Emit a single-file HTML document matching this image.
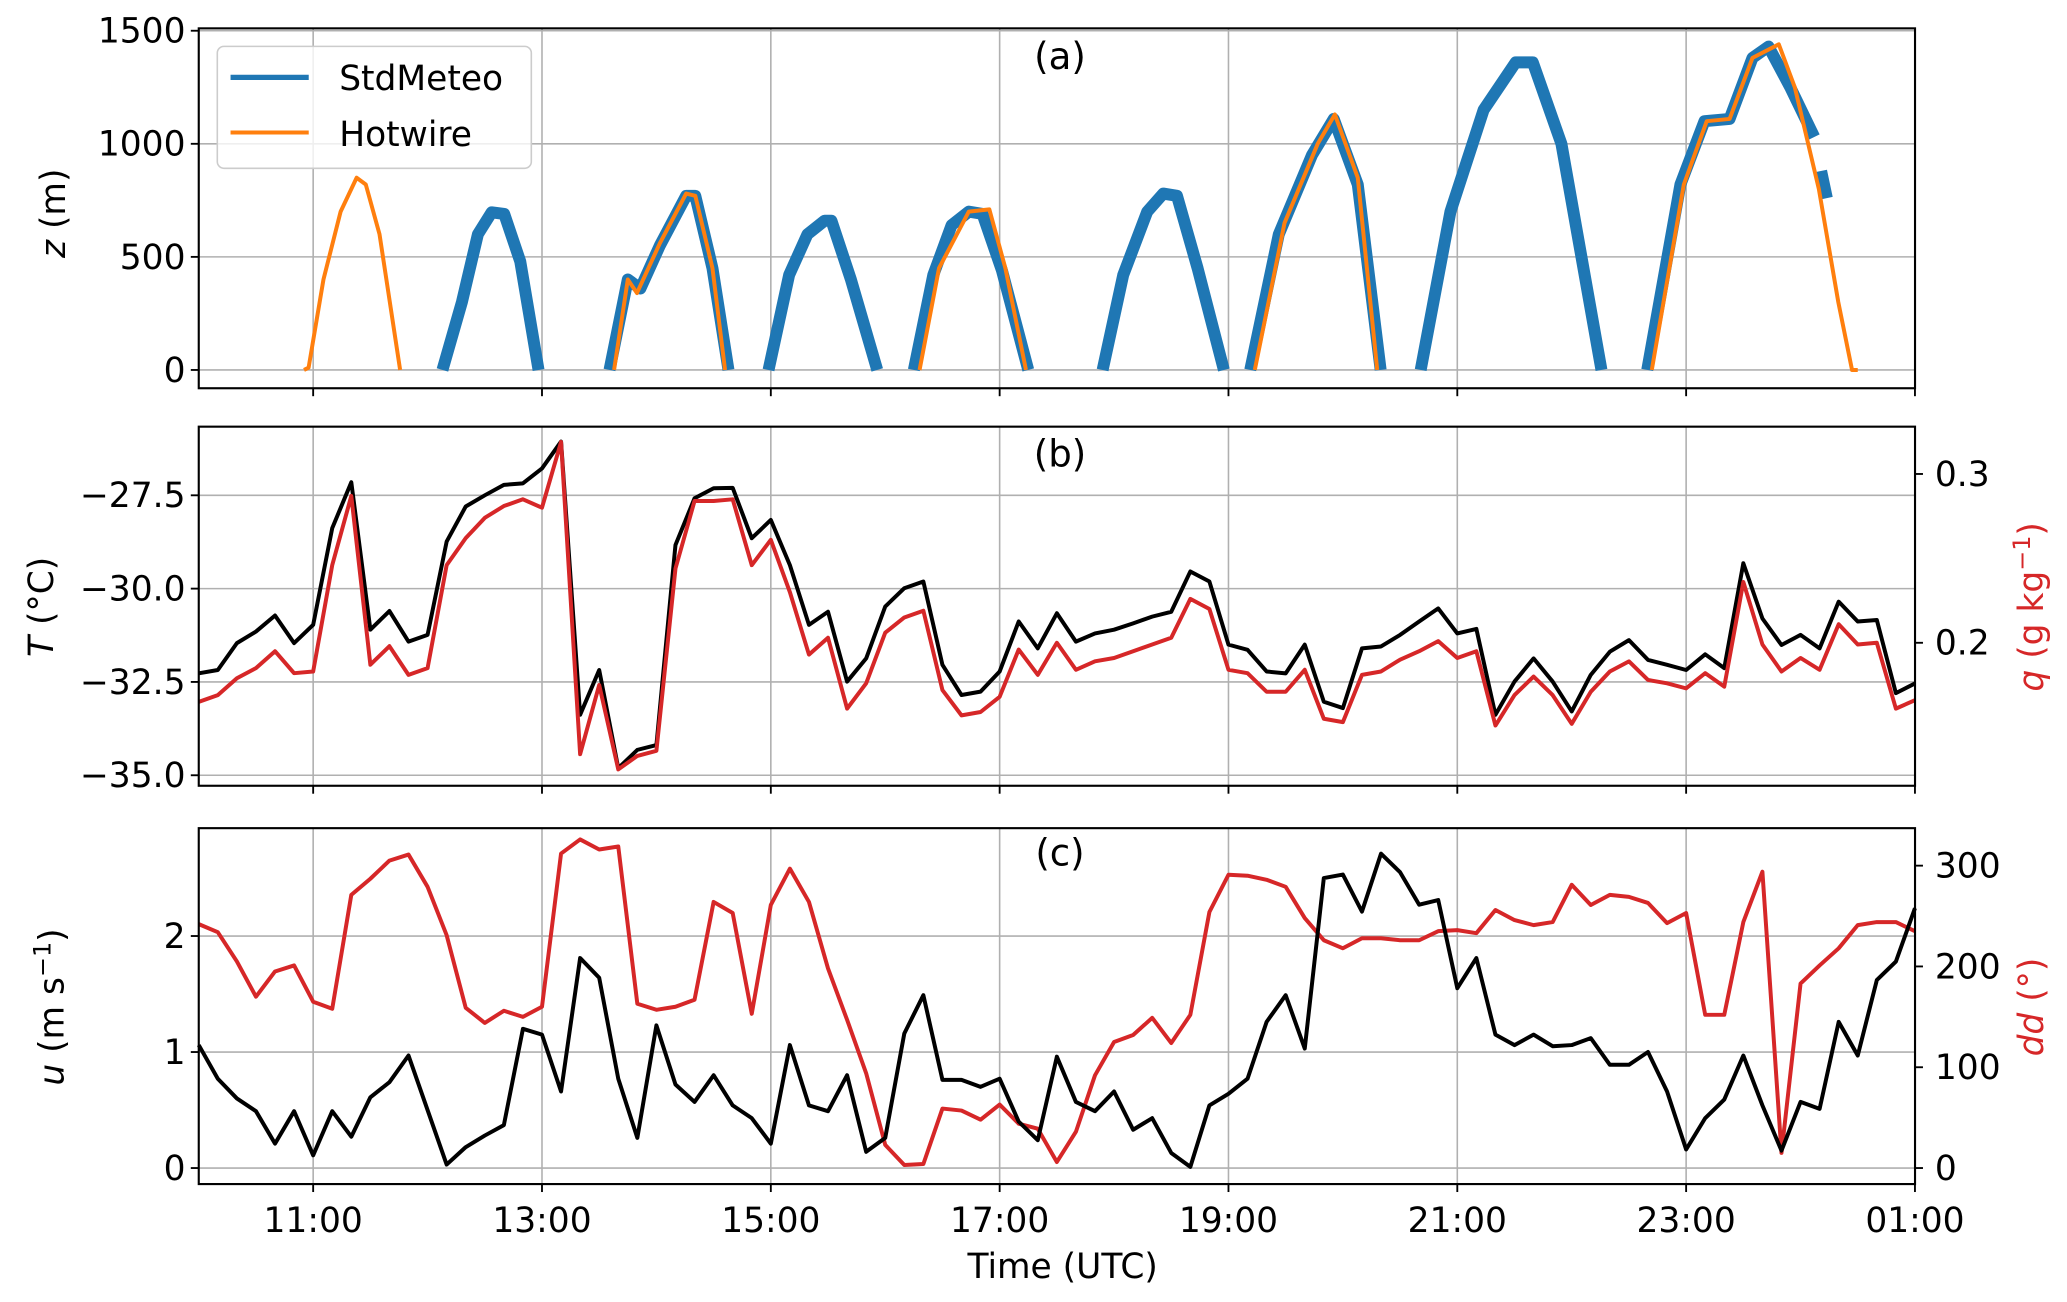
<!DOCTYPE html>
<html><head><meta charset="utf-8"><style>
html,body{margin:0;padding:0;background:#fff;}
svg{display:block;font-family:"DejaVu Sans","Liberation Sans",sans-serif;}
</style></head><body>
<svg id="fig" width="2067" height="1302" viewBox="0 0 1560 982.6" preserveAspectRatio="none" xmlns="http://www.w3.org/2000/svg"></svg>
<script>
// ---------- data ----------
const timeStepMin = 10; // samples every 10 min starting 10:00 UTC
const tempC = [-32.27,-32.18,-31.46,-31.15,-30.72,-31.46,-30.97,-28.38,-27.15,-31.1,-30.6,-31.42,-31.24,-28.74,-27.8,-27.5,-27.22,-27.18,-26.78,-26.06,-33.38,-32.18,-34.81,-34.32,-34.19,-28.83,-27.58,-27.31,-27.3,-28.65,-28.16,
-29.37,-30.97,-30.62,-32.49,-31.87,-30.48,-29.99,-29.81,-32.04,-32.85,-32.76,-32.22,-30.88,-31.6,-30.66,-31.42,-31.2,-31.1,-30.93,-30.75,-30.62,-29.54,-29.81,-31.5,-31.64,-32.22,-32.27,-31.5,-33.03,-33.2,-31.6,
-31.55,-31.24,-30.88,-30.53,-31.2,-31.08,-33.38,-32.49,-31.87,-32.49,-33.29,-32.31,-31.69,-31.38,-31.91,-32.04,-32.18,-31.76,-32.13,-29.32,-30.8,-31.51,-31.24,-31.6,-30.35,-30.88,-30.84,-32.8,-32.54];
const humidity = [0.165,0.169,0.179,0.185,0.195,0.182,0.183,0.246,0.287,0.187,0.198,0.181,0.185,0.246,0.262,0.274,0.281,0.285,0.280,0.319,0.134,0.175,0.125,0.133,0.136,0.244,0.284,0.284,0.285,0.246,0.261,
0.230,0.193,0.203,0.161,0.176,0.206,0.215,0.219,0.172,0.157,0.159,0.168,0.196,0.181,0.200,0.184,0.189,0.191,0.195,0.199,0.203,0.226,0.220,0.184,0.182,0.171,0.171,0.184,0.155,0.153,0.181,
0.183,0.190,0.195,0.201,0.191,0.195,0.151,0.169,0.180,0.169,0.152,0.171,0.183,0.189,0.178,0.176,0.173,0.182,0.174,0.236,0.199,0.183,0.191,0.184,0.211,0.199,0.200,0.161,0.166];
const windSpeed = [1.06,0.77,0.60,0.49,0.21,0.49,0.11,0.49,0.27,0.61,0.74,0.97,0.50,0.03,0.18,0.28,0.37,1.20,1.15,0.66,1.81,1.64,0.77,0.26,1.23,0.72,0.57,0.80,0.54,0.43,0.21,
1.06,0.54,0.49,0.80,0.14,0.26,1.16,1.49,0.76,0.76,0.70,0.77,0.40,0.24,0.96,0.57,0.49,0.66,0.33,0.43,0.13,0.01,0.54,0.64,0.77,1.26,1.49,1.03,2.50,2.53,2.21,
2.71,2.55,2.27,2.31,1.55,1.81,1.15,1.06,1.15,1.05,1.06,1.12,0.89,0.89,1.00,0.66,0.16,0.43,0.59,0.97,0.54,0.15,0.57,0.51,1.26,0.97,1.62,1.78,2.24];
const windDir = [242,234,205,170,195,201,165,158,271,287,305,311,279,231,159,144,156,150,160,312,326,316,319,163,157,160,167,264,253,153,261,
297,264,198,147,94,23,3,4,59,57,48,63,44,39,6,36,92,125,132,149,124,152,254,291,290,286,279,248,226,218,228,
228,226,226,235,236,233,256,246,241,244,281,261,271,269,263,243,253,152,152,244,294,15,183,201,218,241,244,244,235];
const stdMeteoFlights = [
 [[12.13,0],[12.30,300],[12.44,600],[12.56,697],[12.67,690],[12.81,480],[12.97,0]],
 [[13.59,0],[13.75,400],[13.86,360],[14.03,550],[14.26,770],[14.34,770],[14.49,450],[14.63,0]],
 [[14.98,0],[15.16,420],[15.32,600],[15.47,660],[15.53,660],[15.70,400],[15.93,0]],
 [[16.25,0],[16.42,420],[16.58,640],[16.73,700],[16.85,690],[17.02,440],[17.25,0]],
 [[17.90,0],[18.08,420],[18.29,700],[18.43,780],[18.55,770],[18.73,450],[18.96,0]],
 [[19.19,0],[19.44,600],[19.73,950],[19.92,1110],[20.13,820],[20.33,0]],
 [[20.68,0],[20.94,700],[21.23,1150],[21.51,1360],[21.66,1360],[21.91,1000],[22.26,0]],
 [[22.66,0],[22.95,820],[23.16,1100],[23.38,1110],[23.58,1380],[23.72,1430],[23.91,1250],[24.12,1030]],
 [[24.18,880],[24.23,760]]
];
const hotwireFlights = [
 [[10.92,0],[10.96,10],[11.09,400],[11.24,700],[11.38,850],[11.46,820],[11.58,600],[11.76,0]],
 [[13.63,0],[13.75,400],[13.83,340],[14.03,560],[14.26,780],[14.34,770],[14.49,450],[14.60,0]],
 [[16.30,0],[16.47,450],[16.73,700],[16.91,710],[17.05,450],[17.23,0]],
 [[19.23,0],[19.49,650],[19.78,1000],[19.93,1130],[20.13,850],[20.30,0]],
 [[22.70,0],[22.98,820],[23.18,1100],[23.38,1110],[23.58,1380],[23.81,1440],[23.95,1250],[24.16,800],[24.33,300],[24.45,0],[24.50,0]]
];
const xTickHours = [11,13,15,17,19,21,23,25];
const xTickLabels = ["11:00","13:00","15:00","17:00","19:00","21:00","23:00","01:00"];
const zTicks = [0,500,1000,1500];
const tTicks = [-35,-32.5,-30,-27.5];
const tTickLabels = ["\u221235.0","\u221232.5","\u221230.0","\u221227.5"];
const qTicks = [0.2,0.3];
const uTicks = [0,1,2];
const ddTicks = [0,100,200,300];

// ---------- geometry ----------
const L=150, R=1445.3;
const xs = h => L + (h-10)*86.35;
const yz = z => 279.2 - z*0.17067;
const yT = t => 373.8 + (-27.5 - t)*28.17;
const yq = q => 485.1 - (q-0.2)*1274;
const yu = u => 881.5 - u*87.55;
const ydd = d => 881.5 - d*0.7607;
const panels = [{top:21.4,bot:293},{top:322,bot:593},{top:625,bot:893.6}];
const NS="http://www.w3.org/2000/svg";
const svg=document.getElementById('fig');
function mk(tag,attrs,parent){const e=document.createElementNS(NS,tag);for(const k in attrs)e.setAttribute(k,attrs[k]);(parent||svg).appendChild(e);return e;}
function txt(s,attrs,parent){const e=mk('text',attrs,parent);e.textContent=s;return e;}
const hOf = i => 10 + i*timeStepMin/60;

panels.forEach((p,pi)=>{
  const g=mk('g',{});
  
  
  xTickHours.forEach(h=>{mk('line',{x1:xs(h),x2:xs(h),y1:p.top,y2:p.bot,stroke:'#b0b0b0','stroke-width':1.2},g);});
});
const gridY=[[zTicks,yz,0],[tTicks,yT,1],[uTicks,yu,2]];
gridY.forEach(([arr,f,pi])=>{arr.forEach(v=>{const l=mk('line',{x1:L,x2:R,y1:f(v),y2:f(v),stroke:'#b0b0b0','stroke-width':1.2});

});});

function poly(pts,color,w,name){const p=mk('polyline',{points:pts.map(a=>a[0].toFixed(2)+','+a[1].toFixed(2)).join(' '),fill:'none',stroke:color,'stroke-width':w,'stroke-linejoin':'round'});

return p;}

stdMeteoFlights.forEach((f,i)=>{poly(f.map(a=>[xs(a[0]),yz(a[1])]),'#1f77b4',9,'stdmeteo-flight-'+(i+1));});
hotwireFlights.forEach((f,i)=>{poly(f.map(a=>[xs(a[0]),yz(a[1])]),'#ff7f0e',3,'hotwire-flight-'+(i+1));});
poly(tempC.map((v,i)=>[xs(hOf(i)),yT(v)]),'#000',3,'temperature-line');
poly(humidity.map((v,i)=>[xs(hOf(i)),yq(v)]),'#d62728',3,'humidity-line');
poly(windDir.map((v,i)=>[xs(hOf(i)),ydd(v)]),'#d62728',3,'wind-direction-line');
poly(windSpeed.map((v,i)=>[xs(hOf(i)),yu(v)]),'#000',3,'wind-speed-line');

panels.forEach((p,pi)=>{
  const r=mk('rect',{x:L,y:p.top,width:R-L,height:p.bot-p.top,fill:'none',stroke:'#000','stroke-width':1.6});
  
  
  xTickHours.forEach(h=>{mk('line',{x1:xs(h),x2:xs(h),y1:p.bot,y2:p.bot+6,stroke:'#000','stroke-width':1.4});});
});
function leftTicks(arr,f,labels){arr.forEach((v,i)=>{mk('line',{x1:L-6,x2:L,y1:f(v),y2:f(v),stroke:'#000','stroke-width':1.4});
const t=txt(labels?labels[i]:String(v),{x:L-10,y:f(v)+9,'font-size':26,'text-anchor':'end'});

});}
function rightTicks(arr,f,labels){arr.forEach((v,i)=>{mk('line',{x1:R,x2:R+6,y1:f(v),y2:f(v),stroke:'#000','stroke-width':1.4});
const t=txt(labels?labels[i]:String(v),{x:R+15,y:f(v)+9,'font-size':26,'text-anchor':'start'});

});}
leftTicks(zTicks,yz);
leftTicks(tTicks,yT,tTickLabels);
rightTicks(qTicks,yq,["0.2","0.3"]);
leftTicks(uTicks,yu);
rightTicks(ddTicks,ydd);
xTickHours.forEach((h,i)=>{const t=txt(xTickLabels[i],{x:xs(h),y:929.6,'font-size':26,'text-anchor':'middle'});

});
</script>
<svg style="position:absolute;left:0;top:0" width="2067" height="1302" viewBox="0 0 1560 982.6" preserveAspectRatio="none" xmlns="http://www.w3.org/2000/svg" font-family="DejaVu Sans, Liberation Sans, sans-serif">
  <text x="800" y="52" font-size="28" text-anchor="middle">(a)</text>
  <text x="800" y="352" font-size="28" text-anchor="middle">(b)</text>
  <text x="800" y="653" font-size="28" text-anchor="middle">(c)</text>
  <text x="802" y="964.6" font-size="26" text-anchor="middle">Time (UTC)</text>
  <text transform="translate(49,161) rotate(-90)" font-size="26" text-anchor="middle"><tspan font-style="italic">z</tspan> (m)</text>
  <text transform="translate(40,458) rotate(-90)" font-size="26" text-anchor="middle"><tspan font-style="italic">T</tspan> (°C)</text>
  <text transform="translate(48,760) rotate(-90)" font-size="26" text-anchor="middle"><tspan font-style="italic">u</tspan> (m s<tspan dy="-10" font-size="18">−1</tspan><tspan dy="10">)</tspan></text>
  <text transform="translate(1542,458) rotate(-90)" font-size="26" text-anchor="middle" fill="#d62728"><tspan font-style="italic">q</tspan> (g kg<tspan dy="-10" font-size="18">−1</tspan><tspan dy="10">)</tspan></text>
  <text transform="translate(1542,760) rotate(-90)" font-size="26" text-anchor="middle" fill="#d62728"><tspan font-style="italic">dd</tspan> (°)</text>
  <g>
    <rect x="164" y="35" width="237" height="92" rx="5" fill="#fff" fill-opacity="0.8" stroke="#cccccc" stroke-width="1.2"/>
    <line x1="174" x2="233" y1="58.4" y2="58.4" stroke="#1f77b4" stroke-width="4"/>
    <text x="256" y="68" font-size="26">StdMeteo</text>
    <line x1="174" x2="233" y1="100" y2="100" stroke="#ff7f0e" stroke-width="3"/>
    <text x="256" y="110" font-size="26">Hotwire</text>
  </g>
</svg>
</body></html>
